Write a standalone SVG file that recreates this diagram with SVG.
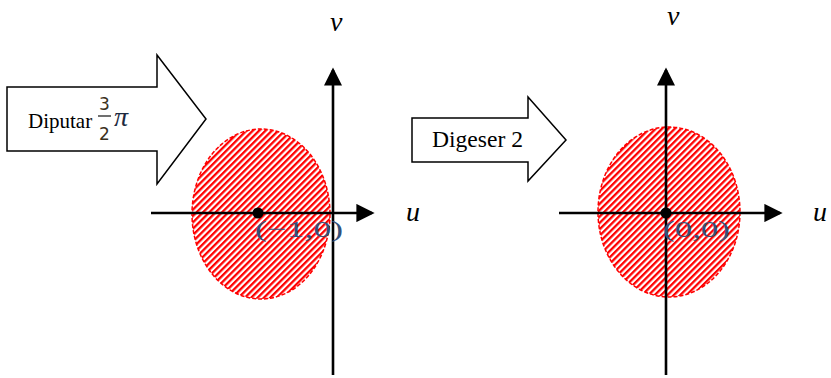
<svg xmlns="http://www.w3.org/2000/svg" width="831" height="378" viewBox="0 0 831 378">
<style>
.ax{stroke:#000;stroke-width:2.6;fill:none}
.box{fill:#fff;stroke:#000;stroke-width:1.5;stroke-linejoin:miter}
.disk{fill:url(#hatch);stroke:#f00;stroke-width:1.5;stroke-dasharray:4 2}
.lbl{font-family:"Liberation Serif","Times New Roman",serif;font-style:italic;font-size:28px;fill:#000}
.txt{font-family:"Liberation Serif","Times New Roman",serif;fill:#000}
.math{font-family:"Liberation Serif","Times New Roman",serif;font-size:24px;fill:#34507a}
</style>
<defs>
<pattern id="hatch" width="4.5" height="4.5" patternUnits="userSpaceOnUse" patternTransform="rotate(45)">
<rect width="4.5" height="4.5" fill="#fff"/>
<rect width="2.3" height="4.5" fill="#f00"/>
</pattern>
<marker id="ah" markerWidth="7" markerHeight="7" refX="6" refY="3.5" orient="auto" markerUnits="strokeWidth">
<path d="M0,0 L7,3.5 L0,7 Z" fill="#000"/>
</marker>
</defs>
<g id="arrow-rotate">
<path class="box" d="M7,87 H157 V55 L206,119 L157,184 V151 H7 Z"/>
<text class="txt" x="28" y="128" font-size="21">Diputar</text>
<text x="104.5" y="110" font-family="DejaVu Sans,sans-serif" font-size="17" fill="#3a3020" text-anchor="middle">3</text>
<line x1="98" y1="116" x2="111" y2="116" stroke="#222" stroke-width="1.3"/>
<text x="104.5" y="140" font-family="DejaVu Sans,sans-serif" font-size="17" fill="#3a3020" text-anchor="middle">2</text>
<text x="114" y="126" font-family="Liberation Serif,serif" font-style="italic" font-size="28" fill="#1e2a40">π</text>
</g>
<g id="plane-left">
<ellipse class="disk" cx="261" cy="214" rx="69" ry="85"/>
</g>
<g id="plane-right">
<ellipse class="disk" cx="669" cy="212" rx="71" ry="85"/>
</g>
<g id="arrow-dilate">
<path class="box" d="M412,118 H528 V97 L566,140 L528,181 V162 H412 Z"/>
<text class="txt" x="432" y="147" font-size="23" textLength="91" lengthAdjust="spacingAndGlyphs">Digeser 2</text>
</g>
<g id="connectors">
<line class="ax" x1="151" y1="213" x2="372" y2="213" marker-end="url(#ah)"/>
<line class="ax" x1="333" y1="375" x2="333" y2="70" marker-end="url(#ah)"/>
<line class="ax" x1="559" y1="213" x2="780" y2="213" marker-end="url(#ah)"/>
<line class="ax" x1="666" y1="375" x2="666" y2="70" marker-end="url(#ah)"/>
</g>
<g id="point-left">
<circle cx="258" cy="213" r="5.5" fill="#000"/>
<text class="math" x="255" y="237" textLength="88" lengthAdjust="spacingAndGlyphs">(−1,0)</text>
</g>
<g id="point-right">
<circle cx="666" cy="213" r="5.5" fill="#000"/>
<text class="math" x="663" y="237" textLength="67" lengthAdjust="spacingAndGlyphs">(0,0)</text>
</g>
<g id="labels">
<text class="lbl" x="406" y="221">u</text>
<text class="lbl" x="330" y="31">v</text>
<text class="lbl" x="813" y="221">u</text>
<text class="lbl" x="667" y="25" font-size="22">v</text>
</g>
</svg>
